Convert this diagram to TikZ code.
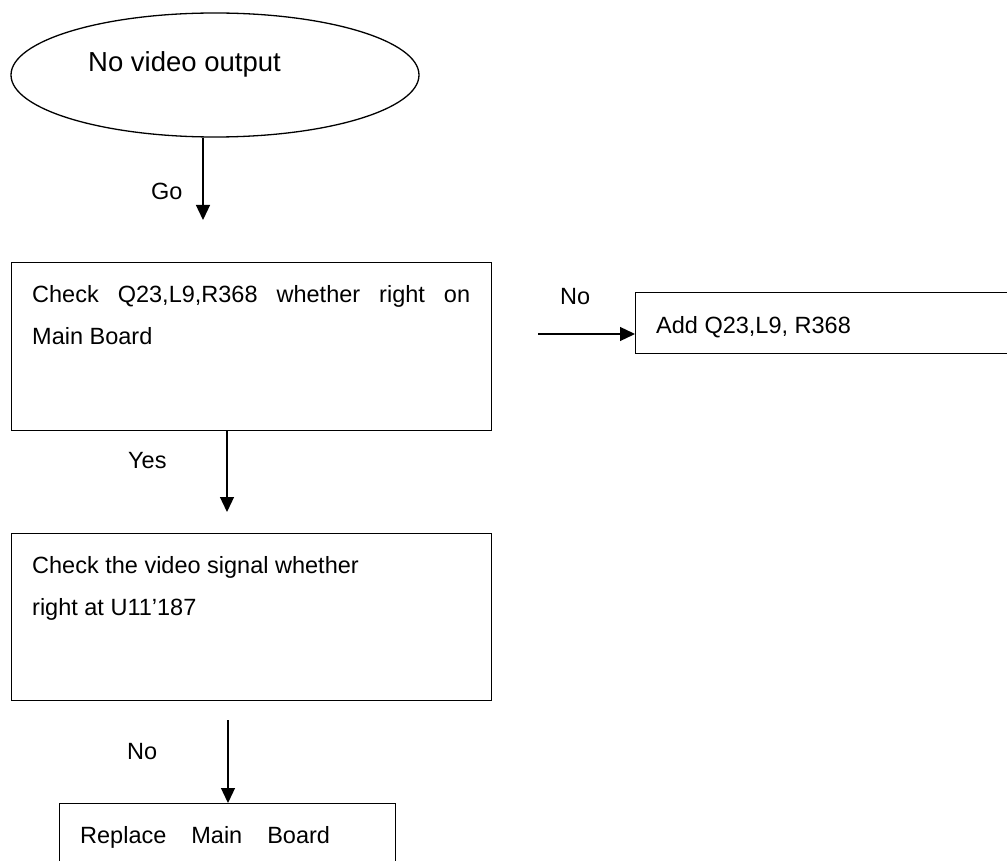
\documentclass[tikz,border=0pt]{standalone}
\usepackage{fontspec}
\setmainfont{Liberation Sans}
\usetikzlibrary{arrows.meta,shapes.geometric}
\tikzset{
  base/.style={line width=1.3pt, draw=black},
  flowbox/.style={base, rectangle, inner sep=0pt, anchor=north west},
  oval/.style={base, ellipse, inner sep=0pt, minimum width=408pt, minimum height=124pt},
  txt/.style={inner sep=0pt, anchor=north west, align=left, font=\fontsize{23.5pt}{42pt}\selectfont},
  lbl/.style={inner sep=0pt, anchor=north west, font=\fontsize{23.5pt}{28pt}\selectfont},
  arr/.style={line width=1.3pt, -{Triangle[length=15pt,width=14pt]}}
}
\begin{document}
\begin{tikzpicture}[x=1pt,y=-1pt]
\useasboundingbox (0,0) rectangle (1007,861);
\clip (0,0) rectangle (1007,861);
% start oval
\node[oval] (start) at (215,75) {};
\node[txt, font=\fontsize{27.5pt}{33pt}\selectfont] (starttxt) at (88,51) {No video output};
% box 1
\node[flowbox, minimum width=480pt, minimum height=168pt] (b1) at (11,262) {};
\node[txt] (t1) at (32,285) {\makebox[438pt][s]{Check Q23,L9,R368 whether right on}\\Main Board};
% right box
\node[flowbox, minimum width=400pt, minimum height=61pt] (r) at (635,292) {};
\node[txt] (tr) at (656,316) {Add Q23,L9, R368};
% box 2
\node[flowbox, minimum width=480pt, minimum height=167pt] (b2) at (11,533) {};
\node[txt] (t2) at (32,556) {Check the video signal whether\\right at U11’187};
% box 3
\node[flowbox, minimum width=336pt, minimum height=100pt] (b3) at (59,803) {};
\node[txt] (t3) at (80,826) {Replace\hspace{25pt}Main\hspace{25pt}Board};
% connectors
\coordinate (g1) at (203,220);
\coordinate (g2) at (227,512);
\coordinate (g3) at (228,720);
\coordinate (g4) at (538,334);
\draw[arr] (start.south -| g1) -- (g1);
\draw[arr] (b1.south -| g2) -- (g2);
\draw[arr] (g3) -- (b3.north -| g3);
\draw[arr] (g4) -- (g4 -| r.west);
% labels
\node[lbl] (lgo) at (151,183) {Go};
\node[lbl] (lyes) at (128,452) {Yes};
\node[lbl] (lno1) at (127,743) {No};
\node[lbl] (lno2) at (560,288) {No};
\end{tikzpicture}
\end{document}
